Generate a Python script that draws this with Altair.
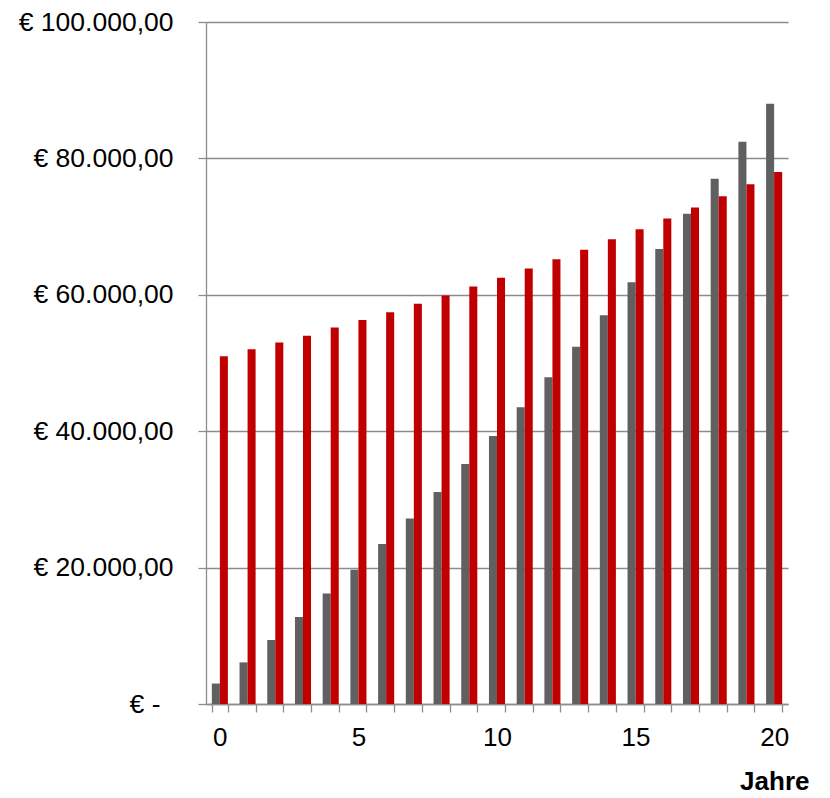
import altair as alt
import pandas as pd

# Werte je Jahr (0 bis 20)
jahre = list(range(21))
reihe_grau = [3000, 6100, 9400, 12750, 16200, 19700, 23450, 27200, 31100, 35200,
              39300, 43500, 47900, 52400, 57000, 61850, 66700, 71900, 77000, 82450, 88000]
reihe_rot = [51000, 52000, 53000, 54000, 55200, 56300, 57450, 58700, 59900, 61200,
             62500, 63850, 65200, 66600, 68150, 69600, 71200, 72800, 74450, 76200, 78000]
reihen = ["Reihe 1", "Reihe 2"]
farben = ["#606060", "#C00000"]
y_ticks = [0, 20000, 40000, 60000, 80000, 100000]

rows = []
for j, g, r in zip(jahre, reihe_grau, reihe_rot):
    rows.append({"Jahr": j, "Reihe": reihen[0], "Wert": g})
    rows.append({"Jahr": j, "Reihe": reihen[1], "Wert": r})
df = pd.DataFrame(rows)

font = "Liberation Sans"
linie = "#8c8c8c"

# Buchhaltungsformat: "€ 20.000,00", Null als "€ -"
y_label = ("datum.value == 0 ? '\u20ac -' : "
           "'\u20ac ' + format(datum.value / 1000, 'd') + '.000,00'")

chart = alt.Chart(df).mark_bar().encode(
    x=alt.X(
        "Jahr:O",
        sort=jahre,
        scale=alt.Scale(paddingInner=0.42, paddingOuter=0.21),
        axis=alt.Axis(
            title="Jahre",
            labelExpr="datum.value % 5 == 0 ? datum.label : ''",
            labelAngle=0,
            labelFont=font,
            labelFontSize=26,
            labelColor="#000000",
            labelPadding=12,
            tickBand="extent",
            tickSize=8,
            tickColor=linie,
            tickWidth=1.3,
            domainColor=linie,
            domainWidth=1.3,
            grid=False,
            titleFont=font,
            titleFontSize=26,
            titleFontWeight="bold",
            titleColor="#000000",
            titleAnchor="end",
            titleAlign="right",
            titleBaseline="alphabetic",
            titleX=603,
            titleY=85,
        ),
    ),
    xOffset=alt.XOffset("Reihe:N", sort=reihen,
                        scale=alt.Scale(paddingInner=0, paddingOuter=0)),
    y=alt.Y(
        "Wert:Q",
        scale=alt.Scale(domain=[0, 100000], nice=False),
        axis=alt.Axis(
            title=None,
            values=y_ticks,
            labelExpr=y_label,
            labelFont=font,
            labelFontSize=26.5,
            labelColor="#000000",
            labelPadding={"condition": {"test": "datum.value == 0", "value": 38}, "value": 25},
            tickSize=8,
            tickColor=linie,
            tickWidth=1.3,
            domainColor=linie,
            domainWidth=1.3,
            grid=True,
            gridColor=linie,
            gridWidth=1.3,
        ),
    ),
    color=alt.Color("Reihe:N", scale=alt.Scale(domain=reihen, range=farben), legend=None),
).properties(
    width=582,
    height=682,
    autosize=alt.AutoSizeParams(type="none"),
    padding={"left": 206, "top": 22, "right": 42, "bottom": 94},
).configure(background="#ffffff").configure_view(stroke=None)

chart.save("out.html", embed_options={"renderer": "svg", "actions": False})
